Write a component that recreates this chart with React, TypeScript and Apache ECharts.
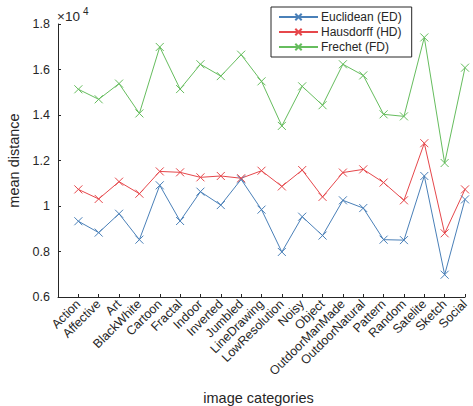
import React, { useEffect, useRef } from "react";
import * as echarts from "echarts";

const categories = [
  "Action", "Affective", "Art", "BlackWhite", "Cartoon", "Fractal", "Indoor",
  "Inverted", "Jumbled", "LineDrawing", "LowResolution", "Noisy", "Object",
  "OutdoorManMade", "OutdoorNatural", "Pattern", "Random", "Satelite", "Sketch", "Social",
];

const euclidean = [
  9330, 8830, 9660, 8520, 10910, 9340, 10630, 10040, 11170, 9840,
  7980, 9530, 8700, 10250, 9910, 8520, 8500, 11320, 6980, 10290,
];
const hausdorff = [
  10730, 10310, 11070, 10540, 11520, 11480, 11260, 11320, 11220, 11550,
  10860, 11580, 10400, 11470, 11610, 11030, 10250, 12760, 8800, 10730,
];
const frechet = [
  15130, 14690, 15380, 14070, 16990, 15140, 16230, 15710, 16650, 15480,
  13520, 15260, 14430, 16230, 15740, 14030, 13940, 17410, 11890, 16080,
];

const yTicks = [0.6, 0.8, 1, 1.2, 1.4, 1.6, 1.8];

const seriesNames = ["Euclidean (ED)", "Hausdorff (HD)", "Frechet (FD)"];
const seriesColors = ["#4a80b8", "#e6474b", "#66bd5e"];

const FONT = "Liberation Sans, Arial, Helvetica, sans-serif";
const TXT = "#262626";
const XMARK = "path://M0,0L10,10M10,0L0,10";

export default function App() {
  const ref = useRef<HTMLDivElement>(null);
  useEffect(() => {
    if (!ref.current) return;
    const chart = echarts.init(ref.current, undefined, { renderer: "svg" });
    const all = [euclidean, hausdorff, frechet];
    chart.setOption({
      animation: false,
      backgroundColor: "#ffffff",
      textStyle: { fontFamily: FONT },
      grid: { left: 58, right: 8, top: 24, bottom: 109, outerBoundsMode: "none", containLabel: false },
      legend: {
        orient: "vertical",
        left: 271,
        top: 7,
        width: 135,
        backgroundColor: "#ffffff",
        borderColor: "#262626",
        borderWidth: 1,
        borderRadius: 0,
        padding: [3, 10, 3, 7],
        itemWidth: 39,
        itemHeight: 8,
        itemGap: 1,
        textStyle: { fontSize: 12, color: TXT, fontFamily: FONT, padding: [0, 0, 0, -2], lineHeight: 14 },
        data: seriesNames,
      },
      xAxis: {
        type: "value",
        min: 0,
        max: 20,
        interval: 1,
        name: "image categories",
        nameLocation: "middle",
        nameGap: 93,
        nameTextStyle: { fontSize: 14.5, color: TXT, fontFamily: FONT, padding: [0, 6, 0, 0] },
        axisLine: { lineStyle: { color: TXT, width: 1 } },
        axisTick: { inside: true, length: 3, lineStyle: { color: TXT } },
        splitLine: { show: false },
        axisLabel: {
          rotate: 45,
          fontSize: 12.5,
          color: TXT,
          fontFamily: FONT,
          margin: 5,
          formatter: (v: number) => (v >= 1 && v <= 20 ? categories[Math.round(v) - 1] : ""),
        },
      },
      yAxis: {
        type: "value",
        min: 6000,
        max: 18000,
        interval: 2000,
        name: "mean distance",
        nameLocation: "middle",
        nameGap: 25,
        nameTextStyle: { fontSize: 14.5, color: TXT, fontFamily: FONT },
        axisLine: { show: true, lineStyle: { color: TXT, width: 1 } },
        axisTick: { show: true, inside: true, length: 3, lineStyle: { color: TXT } },
        splitLine: { show: false },
        axisLabel: {
          fontSize: 12.5,
          color: TXT,
          fontFamily: FONT,
          margin: 8,
          formatter: (v: number) => {
            const t = v / 10000;
            const m = yTicks.find((k) => Math.abs(k - t) < 1e-6);
            return m === undefined ? "" : String(m);
          },
        },
      },
      graphic: [
        {
          type: "text",
          left: 57,
          top: 6,
          style: {
            text: "{a|×10}{b|4}",
            rich: {
              a: { fontSize: 13.5, fill: TXT, fontFamily: FONT, verticalAlign: "bottom" },
              b: { fontSize: 10, fill: TXT, fontFamily: FONT, verticalAlign: "top", padding: [0, 0, 7, 3] },
            },
          },
        },
      ],
      series: all.map((vals, i) => ({
        name: seriesNames[i],
        type: "line",
        data: vals.map((v, j) => [j + 1, v]),
        symbol: XMARK,
        symbolSize: 8,
        showSymbol: true,
        lineStyle: { color: seriesColors[i], width: 1 },
        itemStyle: { color: seriesColors[i], borderColor: seriesColors[i], borderWidth: 1 },
      })),
    });
    return () => chart.dispose();
  }, []);
  return <div ref={ref} style={{ width: 473, height: 406, position: "absolute", left: 0, top: 0 }} />;
}
